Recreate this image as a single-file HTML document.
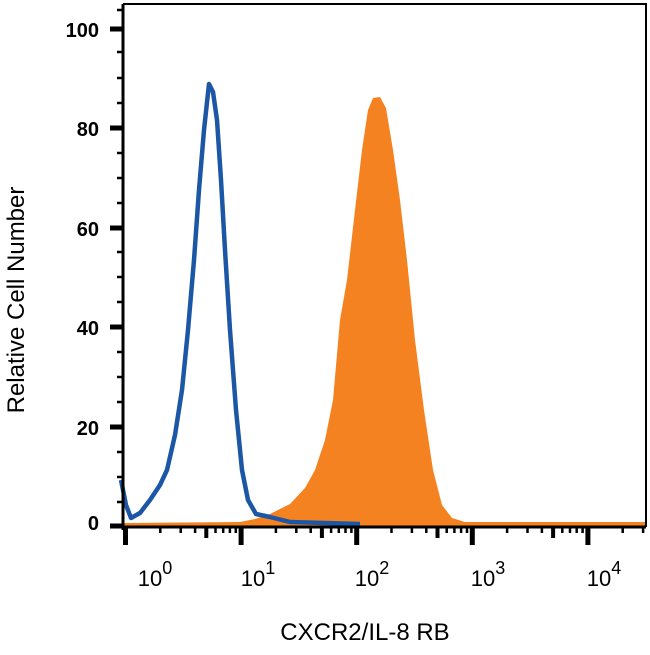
<!DOCTYPE html><html><head><style>body{margin:0;background:#fff}
.yl{font:bold 20px "Liberation Sans",sans-serif}
.xl{font:22px "Liberation Sans",sans-serif}
.sp{font-size:18px}
</style></head><body>
<svg width="650" height="650" viewBox="0 0 650 650" xmlns="http://www.w3.org/2000/svg">
<path d="M123,523 L240,522 L255,519 L270,514 L290,504 L305,488 L315,470 L325,440 L333,400 L340,320 L347,280 L355,210 L362,150 L368,110 L373,98 L380,97 L386,108 L393,150 L400,200 L407,260 L415,340 L424,410 L433,470 L442,505 L452,518 L465,522 L646,522 L646,527 L123,527 Z" fill="#f58220"/>
<path d="M121,480 L126,505 L131,518 L140,513 L150,500 L160,485 L167,470 L175,435 L182,390 L188,330 L194,260 L199,190 L204,130 L209,84 L213,92 L217,120 L221,180 L225,250 L230,330 L236,410 L242,470 L248,500 L256,514 L270,517 L290,522 L360,524" fill="none" stroke="#1c57a5" stroke-width="4.5" stroke-linejoin="round"/>
<path d="M123,4 H646 V527" fill="none" stroke="#000" stroke-width="2"/>
<line x1="123" y1="4" x2="123" y2="530" stroke="#000" stroke-width="3"/>
<line x1="112" y1="527" x2="646" y2="527" stroke="#000" stroke-width="3"/>
<g stroke="#000">
<g stroke-width="5">
<line x1="110" y1="29" x2="123" y2="29"/><line x1="110" y1="128" x2="123" y2="128"/><line x1="110" y1="228" x2="123" y2="228"/><line x1="110" y1="327" x2="123" y2="327"/><line x1="110" y1="427" x2="123" y2="427"/><line x1="110" y1="526" x2="123" y2="526"/>
</g>
<g stroke-width="2.5">
<line x1="117" y1="52" x2="123" y2="52"/><line x1="117" y1="78" x2="123" y2="78"/><line x1="117" y1="103" x2="123" y2="103"/>
<line x1="117" y1="153" x2="123" y2="153"/><line x1="117" y1="178" x2="123" y2="178"/><line x1="117" y1="203" x2="123" y2="203"/>
<line x1="117" y1="252" x2="123" y2="252"/><line x1="117" y1="277" x2="123" y2="277"/><line x1="117" y1="302" x2="123" y2="302"/>
<line x1="117" y1="352" x2="123" y2="352"/><line x1="117" y1="377" x2="123" y2="377"/><line x1="117" y1="402" x2="123" y2="402"/>
<line x1="117" y1="452" x2="123" y2="452"/><line x1="117" y1="477" x2="123" y2="477"/><line x1="117" y1="502" x2="123" y2="502"/>
<line x1="117" y1="10" x2="123" y2="10"/>
</g>
<g stroke-width="5">
<line x1="125.5" y1="527" x2="125.5" y2="545"/><line x1="241.1" y1="527" x2="241.1" y2="545"/><line x1="356.7" y1="527" x2="356.7" y2="545"/><line x1="472.3" y1="527" x2="472.3" y2="545"/><line x1="587.9" y1="527" x2="587.9" y2="545"/>
</g>
<g stroke-width="4">
<line x1="206.3" y1="527" x2="206.3" y2="538"/><line x1="321.9" y1="527" x2="321.9" y2="538"/><line x1="437.5" y1="527" x2="437.5" y2="538"/><line x1="553.1" y1="527" x2="553.1" y2="538"/>
</g>
<g stroke-width="2.5">
<line x1="160.3" y1="527" x2="160.3" y2="533"/><line x1="180.7" y1="527" x2="180.7" y2="533"/><line x1="195.1" y1="527" x2="195.1" y2="533"/><line x1="215.5" y1="527" x2="215.5" y2="533"/><line x1="223.2" y1="527" x2="223.2" y2="533"/><line x1="229.9" y1="527" x2="229.9" y2="533"/><line x1="235.8" y1="527" x2="235.8" y2="533"/>
<line x1="275.9" y1="527" x2="275.9" y2="533"/><line x1="296.3" y1="527" x2="296.3" y2="533"/><line x1="310.7" y1="527" x2="310.7" y2="533"/><line x1="331.1" y1="527" x2="331.1" y2="533"/><line x1="338.8" y1="527" x2="338.8" y2="533"/><line x1="345.5" y1="527" x2="345.5" y2="533"/><line x1="351.4" y1="527" x2="351.4" y2="533"/>
<line x1="391.5" y1="527" x2="391.5" y2="533"/><line x1="411.9" y1="527" x2="411.9" y2="533"/><line x1="426.3" y1="527" x2="426.3" y2="533"/><line x1="446.7" y1="527" x2="446.7" y2="533"/><line x1="454.4" y1="527" x2="454.4" y2="533"/><line x1="461.1" y1="527" x2="461.1" y2="533"/><line x1="467" y1="527" x2="467" y2="533"/>
<line x1="507.1" y1="527" x2="507.1" y2="533"/><line x1="527.5" y1="527" x2="527.5" y2="533"/><line x1="541.9" y1="527" x2="541.9" y2="533"/><line x1="562.3" y1="527" x2="562.3" y2="533"/><line x1="570" y1="527" x2="570" y2="533"/><line x1="576.7" y1="527" x2="576.7" y2="533"/><line x1="582.6" y1="527" x2="582.6" y2="533"/>
<line x1="622.7" y1="527" x2="622.7" y2="533"/><line x1="643.1" y1="527" x2="643.1" y2="533"/>
</g>
</g>
<g class="yl" text-anchor="end" fill="#000">
<text x="99" y="37">100</text><text x="99" y="136">80</text><text x="99" y="236">60</text><text x="99" y="335">40</text><text x="99" y="435">20</text><text x="99" y="530">0</text>
</g>
<g class="xl" fill="#000" text-anchor="middle">
<text x="155" y="586">10<tspan class="sp" dy="-12">0</tspan></text>
<text x="258" y="586">10<tspan class="sp" dy="-12">1</tspan></text>
<text x="372" y="586">10<tspan class="sp" dy="-12">2</tspan></text>
<text x="488" y="586">10<tspan class="sp" dy="-12">3</tspan></text>
<text x="604" y="586">10<tspan class="sp" dy="-12">4</tspan></text>
</g>
<text x="365" y="640" style="font:24px 'Liberation Sans',sans-serif" text-anchor="middle">CXCR2/IL-8 RB</text>
<text transform="translate(24,300) rotate(-90)" style="font:24px 'Liberation Sans',sans-serif" text-anchor="middle">Relative Cell Number</text>
</svg>
</body></html>
